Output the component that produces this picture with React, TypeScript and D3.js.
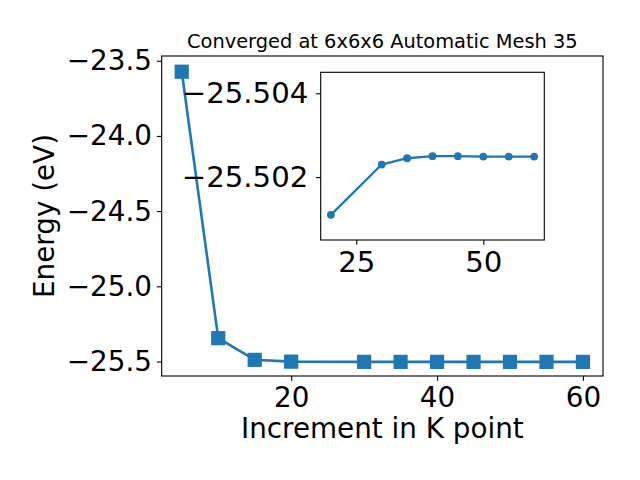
import React, { useRef, useEffect } from 'react';
import * as d3 from 'd3';

// k-point increments and total energies (eV)
const kPoints = [5, 10, 15, 20, 30, 35, 40, 45, 50, 55, 60];
const energies = [
  -23.573, -25.345, -25.489, -25.5011, -25.5023, -25.50245, -25.5025, -25.5025, -25.50249, -25.50249,
  -25.50249,
];
const mainYTicks = [-25.5, -25.0, -24.5, -24.0, -23.5];
const mainXTicks = [20, 40, 60];
const insetYTicks = [-25.504, -25.502];
const insetXTicks = [25, 50];
const insetStart = 20;

const title = 'Converged at 6x6x6 Automatic Mesh 35';
const xLabel = 'Increment in K point';
const yLabel = 'Energy (eV)';

const W = 640;
const H = 480;
const blue = '#1f77b4';
const font = '"DejaVu Sans", sans-serif';
const big = 27.8;
const insetFont = 29.2;
const tick = 4.86;

const App = () => {
  const svgRef = useRef<SVGSVGElement>(null);

  useEffect(() => {
    const svg = d3.select(svgRef.current);
    svg.selectAll('*').remove();

    // main axes box
    const m = { left: 161.7, right: 603, top: 56, bottom: 376 };
    const x = d3.scaleLinear().domain([2.25, 62.75]).range([m.left, m.right]);
    const y = d3.scaleLinear().domain([-25.5965, -23.4685]).range([m.bottom, m.top]);

    const styleAxis = (g: any, isX: boolean, size: number) => {
      g.select('.domain').remove();
      g.selectAll('line').attr('stroke', '#000').attr('stroke-width', 1.1);
      g.selectAll('text')
        .attr('font-family', font)
        .attr('font-size', size)
        .attr('fill', '#000');
      if (isX) g.selectAll('text').attr('dy', '0.77em');
    };

    svg
      .append('g')
      .attr('transform', `translate(0,${m.bottom})`)
      .call(d3.axisBottom(x).tickValues(mainXTicks).tickSize(tick).tickPadding(tick).tickFormat(d3.format('d')))
      .call((g: any) => styleAxis(g, true, big));

    svg
      .append('g')
      .attr('transform', `translate(${m.left},0)`)
      .call(d3.axisLeft(y).tickValues(mainYTicks).tickSize(tick).tickPadding(tick).tickFormat(d3.format('.1f')))
      .call((g: any) => styleAxis(g, false, big));

    const line = d3
      .line<number>()
      .x((d, i) => x(kPoints[i]))
      .y(d => y(d));

    svg
      .append('path')
      .datum(energies)
      .attr('d', line)
      .attr('fill', 'none')
      .attr('stroke', blue)
      .attr('stroke-width', 2.6);

    const sq = 14.2;
    svg
      .selectAll('.sq')
      .data(energies)
      .join('rect')
      .attr('class', 'sq')
      .attr('x', (d, i) => x(kPoints[i]) - sq / 2)
      .attr('y', d => y(d) - sq / 2)
      .attr('width', sq)
      .attr('height', sq)
      .attr('fill', blue);

    svg
      .append('rect')
      .attr('x', m.left)
      .attr('y', m.top)
      .attr('width', m.right - m.left)
      .attr('height', m.bottom - m.top)
      .attr('fill', 'none')
      .attr('stroke', '#000')
      .attr('stroke-width', 1.1);

    svg
      .append('text')
      .attr('x', (m.left + m.right) / 2)
      .attr('y', 48.3)
      .attr('text-anchor', 'middle')
      .attr('font-family', font)
      .attr('font-size', 19.4)
      .text(title);

    svg
      .append('text')
      .attr('x', (m.left + m.right) / 2)
      .attr('y', 438)
      .attr('text-anchor', 'middle')
      .attr('font-family', font)
      .attr('font-size', big)
      .text(xLabel);

    svg
      .append('text')
      .attr('transform', `translate(54,${(m.top + m.bottom) / 2}) rotate(-90)`)
      .attr('text-anchor', 'middle')
      .attr('font-family', font)
      .attr('font-size', big)
      .text(yLabel);

    // inset (inverted y axis)
    const n = { left: 320.7, right: 544.3, top: 72.3, bottom: 240 };
    const ix = d3.scaleLinear().domain([18, 62]).range([n.left, n.right]);
    const iy = d3.scaleLinear().domain([-25.5005, -25.5045]).range([n.bottom, n.top]);

    svg
      .append('rect')
      .attr('x', n.left)
      .attr('y', n.top)
      .attr('width', n.right - n.left)
      .attr('height', n.bottom - n.top)
      .attr('fill', '#fff');

    svg
      .append('g')
      .attr('transform', `translate(0,${n.bottom})`)
      .call(d3.axisBottom(ix).tickValues(insetXTicks).tickSize(tick).tickPadding(tick).tickFormat(d3.format('d')))
      .call((g: any) => styleAxis(g, true, insetFont));

    svg
      .append('g')
      .attr('transform', `translate(${n.left},0)`)
      .call(d3.axisLeft(iy).tickValues(insetYTicks).tickSize(tick).tickPadding(7.5).tickFormat(d3.format('.3f')))
      .call((g: any) => styleAxis(g, false, insetFont));

    const insetK = kPoints.filter(k => k >= insetStart);
    const insetE = energies.filter((e, i) => kPoints[i] >= insetStart);

    const iline = d3
      .line<number>()
      .x((d, i) => ix(insetK[i]))
      .y(d => iy(d));

    svg
      .append('path')
      .datum(insetE)
      .attr('d', iline)
      .attr('fill', 'none')
      .attr('stroke', blue)
      .attr('stroke-width', 2.3);

    svg
      .selectAll('.dot')
      .data(insetE)
      .join('circle')
      .attr('class', 'dot')
      .attr('cx', (d, i) => ix(insetK[i]))
      .attr('cy', d => iy(d))
      .attr('r', 3.9)
      .attr('fill', blue);

    svg
      .append('rect')
      .attr('x', n.left)
      .attr('y', n.top)
      .attr('width', n.right - n.left)
      .attr('height', n.bottom - n.top)
      .attr('fill', 'none')
      .attr('stroke', '#000')
      .attr('stroke-width', 1.1);
  }, []);

  return (
    <svg
      ref={svgRef}
      width={W}
      height={H}
      style={{ position: 'absolute', left: 0, top: 0, background: '#fff' }}
    />
  );
};

export default App;
